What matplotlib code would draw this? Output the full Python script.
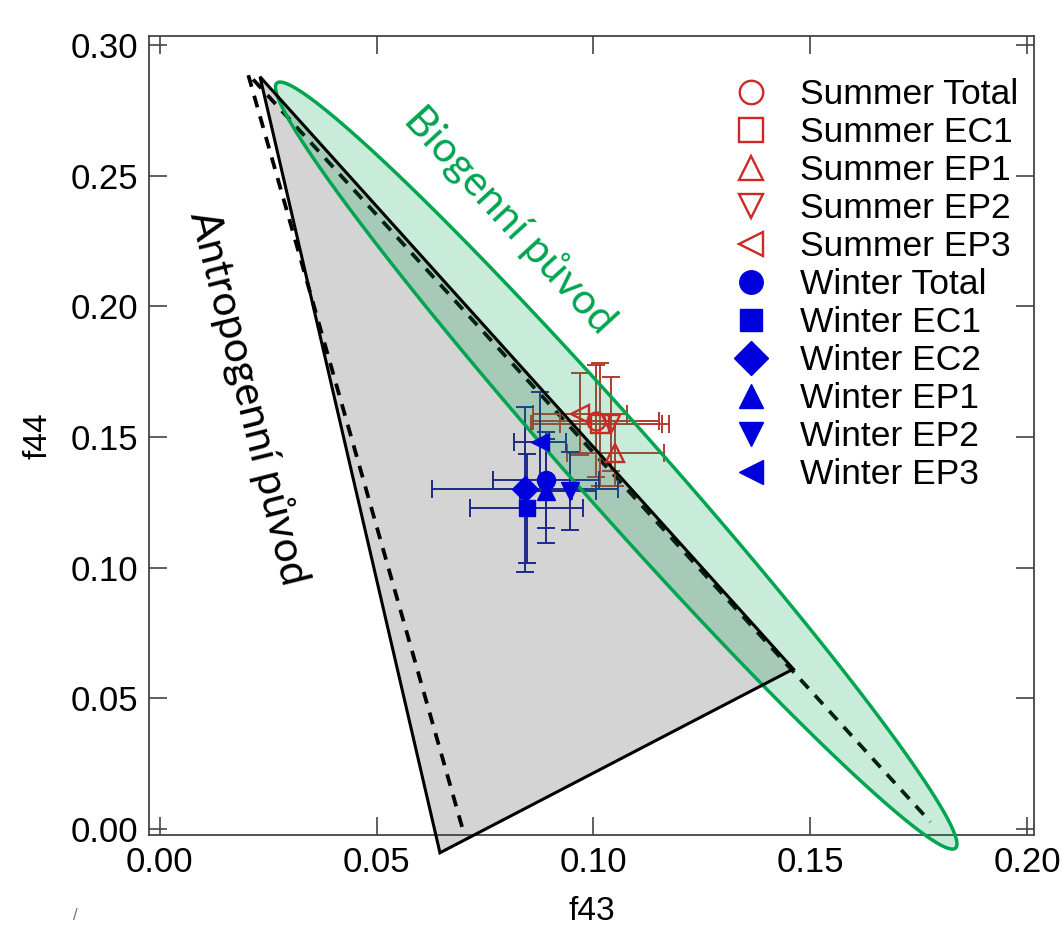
import numpy as np
import matplotlib
matplotlib.use("Agg")
import matplotlib.pyplot as plt
from matplotlib.patches import Polygon

plt.rcParams['font.family'] = ['Liberation Sans', 'DejaVu Sans']

# f43 / f44 means with 1-sigma spread
labels = ["Summer Total", "Summer EC1", "Summer EP1", "Summer EP2", "Summer EP3",
          "Winter Total", "Winter EC1", "Winter EC2", "Winter EP1", "Winter EP2", "Winter EP3"]
f43 = [0.1006, 0.1015, 0.1050, 0.1040, 0.0969,
       0.0891, 0.0846, 0.0842, 0.0891, 0.0946, 0.0877]
f44 = [0.1562, 0.1549, 0.1437, 0.1549, 0.1586,
       0.1335, 0.1227, 0.1300, 0.1294, 0.1294, 0.1482]
f43_err = [0.0145, 0.0159, 0.0112, 0.0117, 0.0108,
           0.0122, 0.0131, 0.0215, 0.0060, 0.0060, 0.0060]
f44_err = [0.0215, 0.0235, 0.0125, 0.0180, 0.0157,
           0.0185, 0.0209, 0.0316, 0.0199, 0.0150, 0.0190]
markers = ['o', 's', '^', 'v', '<', 'o', 's', 'D', '^', 'v', '<']

# triangle regions and biogenic ellipse
tri_solid_x = [0.0231, 0.1461, 0.0646]
tri_solid_y = [0.2878, 0.0612, -0.0091]
tri_dash_x = [0.0697, 0.0203, 0.1777]
tri_dash_y = [0.0008, 0.2890, 0.0027]
ell_end_x = [0.0270, 0.1835]
ell_end_y = [0.2854, -0.0073]
ell_halfwidth_px = 42

RED = '#cc2a26'
RED_BAR = '#b83a30'
BLUE = '#0000dd'
BLUE_BAR = '#1e2a8a'
GREEN = '#00a550'

fig = plt.figure(figsize=(10.64, 9.32), dpi=100)
ax = fig.add_axes([149/1064, 1-835/932, 885/1064, 799/932])
ax.set_xlim(-0.0025, 0.2016)
ax.set_ylim(-0.0023, 0.3034)

# dashed triangle sides
ax.plot(tri_dash_x, tri_dash_y, color='black', lw=2.7, ls=(0, (3.2, 2.5)),
        zorder=1, clip_on=False)

# grey triangle
ax.add_patch(Polygon(np.column_stack([tri_solid_x, tri_solid_y]), closed=True,
                     facecolor='black', alpha=0.17, edgecolor='none', zorder=2,
                     clip_on=False))

# error bars
for i in range(len(labels)):
    summer = labels[i].startswith("Summer")
    ax.errorbar(f43[i], f44[i], xerr=f43_err[i], yerr=f44_err[i], fmt='none',
                ecolor=RED_BAR if summer else BLUE_BAR, elinewidth=1.4,
                capsize=6.5, capthick=1.4, zorder=3)

# ellipse built in display space so it keeps its shape on the unequal axes
fig.canvas.draw()
p = ax.transData.transform(np.column_stack([ell_end_x, ell_end_y]))
c = p.mean(axis=0)
d = p[1] - p[0]
a = np.hypot(*d) / 2
u = d / np.hypot(*d)
n = np.array([-u[1], u[0]])
t = np.linspace(0, 2 * np.pi, 400)
pts = c + np.outer(a * np.cos(t), u) + np.outer(ell_halfwidth_px * np.sin(t), n)
pts = ax.transData.inverted().transform(pts)
ax.add_patch(Polygon(pts, closed=True, facecolor=GREEN, alpha=0.21,
                     edgecolor='none', zorder=4, clip_on=False))
ax.add_patch(Polygon(pts, closed=True, facecolor='none', edgecolor=GREEN,
                     lw=2.5, zorder=4.5, clip_on=False))

# triangle outline
ax.add_patch(Polygon(np.column_stack([tri_solid_x, tri_solid_y]), closed=True,
                     facecolor='none', edgecolor='black', lw=2.2, zorder=5,
                     clip_on=False))

# markers
for i in range(len(labels)):
    if labels[i].startswith("Summer"):
        ax.plot(f43[i], f44[i], ls='none', marker=markers[i], ms=13,
                mfc='none', mec=RED, mew=1.7, label=labels[i], zorder=6)
    else:
        ms = {'D': 13, 's': 12}.get(markers[i], 13)
        ax.plot(f43[i], f44[i], ls='none', marker=markers[i], ms=ms,
                mfc=BLUE, mec=BLUE, mew=1, label=labels[i], zorder=6)

ax.text(0.0205, 0.165, "Antropogenní původ", rotation=-76, fontsize=30.5,
        family=['Lato', 'DejaVu Sans'], ha='center', va='center',
        rotation_mode='anchor', color='black', zorder=7)
ax.text(0.0808, 0.233, "Biogenní původ", rotation=-47.5, fontsize=30.5,
        family=['Lato', 'DejaVu Sans'], ha='center', va='center',
        rotation_mode='anchor', color=GREEN, zorder=7)

ax.set_xticks([0.00, 0.05, 0.10, 0.15, 0.20])
ax.set_yticks([0.00, 0.05, 0.10, 0.15, 0.20, 0.25, 0.30])
ax.set_xticklabels(["0.00", "0.05", "0.10", "0.15", "0.20"])
ax.set_yticklabels(["0.00", "0.05", "0.10", "0.15", "0.20", "0.25", "0.30"])
ax.tick_params(direction='in', length=13, width=1.2, color='#444444',
               top=True, right=True, labelsize=25, pad=8)
for s in ax.spines.values():
    s.set_color('#444444')
    s.set_linewidth(1.3)

ax.set_xlabel("f43", fontsize=24, labelpad=12)
ax.set_ylabel("f44", fontsize=24, labelpad=12)

ax.legend(loc='upper left', bbox_to_anchor=(0.654, 0.947), frameon=False,
          fontsize=25.5, handlelength=1.3, handletextpad=0.75, labelspacing=0.14,
          markerscale=1.3, borderpad=0, borderaxespad=0)

fig.text(75/1064, 1-915/932, "/", fontsize=12, color='#777777', ha='center', va='center')

fig.savefig("out.png", dpi=100)
